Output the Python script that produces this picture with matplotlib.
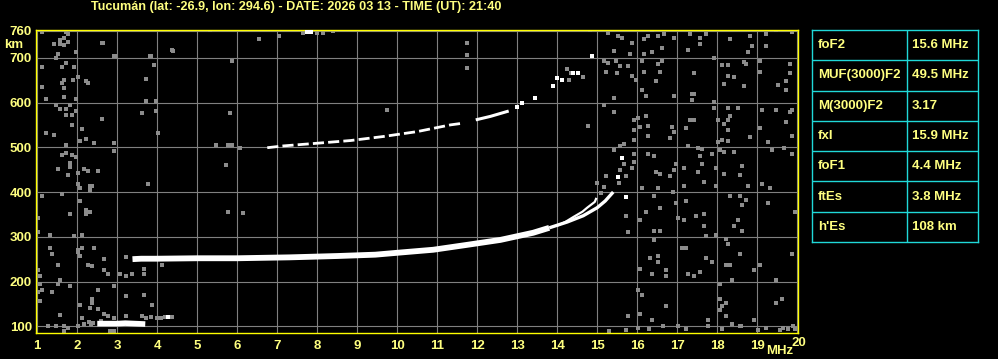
"""
Ionograma Tucumán — traza O/X de la capa F, segundo salto, Es y ruido.
"""

import matplotlib.pyplot as plt
import numpy as np

TITLE = "Tucumán (lat: -26.9, lon: 294.6) - DATE: 2026 03 13 - TIME (UT): 21:40"

# parametros escalados (tabla derecha)
param_names  = ["foF2", "MUF(3000)F2", "M(3000)F2", "fxI", "foF1", "ftEs", "h'Es"]
param_values = ["15.6 MHz", "49.5 MHz", "3.17", "15.9 MHz", "4.4 MHz", "3.8 MHz", "108 km"]

freq_ticks   = list(range(1, 21))
height_ticks = [100, 200, 300, 400, 500, 600, 700, 760]

# traza ordinaria F (banda principal)
o_freq   = [3.38, 3.6, 4.0, 5.0, 6.0, 7.3, 8.5, 9.45, 10.1, 10.9, 11.75, 12.58, 13.4, 13.8]
o_height = [250, 251, 251, 252, 252, 254, 257, 260, 265, 271, 282, 293, 309, 320]
o_end_freq   = [13.8, 14.25, 14.65, 15.0, 15.2, 15.4]
o_end_height = [320, 333, 347, 365, 380, 400]

# rama extraordinaria / cúspide
x_freq   = [14.0, 14.2, 14.4, 14.63, 14.75, 14.94, 14.98]
x_height = [325, 333, 344, 356, 365, 378, 387]

# segundo salto 2F
f2a_freq   = [6.75, 7.15, 8.0, 8.83, 9.65, 10.5, 11.33, 11.58]
f2a_height = [499, 503, 509, 515, 524, 535, 550, 553]
f2b_freq   = [12.0, 12.33, 12.75]
f2b_height = [562, 569, 580]
f2_pts_freq   = [13.0, 13.13, 13.45, 13.9, 14.13, 14.4, 14.53, 14.88, 14.0]
f2_pts_height = [591, 598, 611, 636, 651, 666, 667, 705, 654]

# capa Es
es_freq   = [2.5, 2.8, 3.0, 3.2, 3.45, 3.7]
es_height = [106, 106, 106, 107, 106, 105]
es_tail_freq   = [3.72, 3.85, 4.0, 4.1, 4.2, 4.38, 2.3, 2.4, 2.35, 2.6]
es_tail_height = [118, 120, 118, 119, 120, 120, 110, 108, 104, 112]

# puntos blancos sueltos
bright_freq   = [7.75, 7.85, 15.63, 15.53, 4.28, 15.73, 14.0, 14.4]
bright_height = [757, 757, 476, 434, 120, 388, 654, 666]

# ruido gris, zona baja frecuencia
noise_lo_freq = [1.13, 1.73, 1.78, 1.68, 1.58, 1.43, 1.58, 1.68, 1.78, 2.63, 1.53, 1.48,
                 1.98, 2.93, 3.83, 4.38, 5.33, 5.88, 1.13, 1.63, 1.73, 1.93, 3.93, 2.02,
                 1.9, 1.68, 1.63, 2.23, 2.28, 3.73, 1.13, 1.68, 1.68, 1.23, 1.98, 3.72,
                 3.98, 1.48, 1.83, 1.58, 1.73, 1.98, 1.73, 1.88, 3.63, 3.98, 5.83, 2.63,
                 1.88, 2.13, 1.23, 1.43, 2.23, 2.08, 2.43, 2.93, 4.03, 1.73, 5.48, 5.78,
                 5.88, 2.93, 1.63, 1.73, 1.88, 1.98, 1.83, 1.83, 1.53, 1.78, 2.18, 2.28,
                 2.53, 2.03, 5.73, 2.03, 2.08, 2.33, 2.38, 2.33, 1.13, 1.63, 3.78, 2.08,
                 1.83, 2.23, 2.33, 2.23, 1.03, 5.78, 1.03, 1.33, 2.13, 1.93, 1.33, 1.38,
                 2.03, 2.03, 2.13, 2.43, 2.08, 2.68, 3.23, 1.53, 2.28, 2.38, 2.68, 2.78,
                 3.08, 3.23, 3.38, 3.68, 3.68, 4.13, 1.03, 1.08, 1.08, 1.58, 1.08, 1.83,
                 1.53, 1.13, 1.38, 1.03, 1.08, 2.93, 2.53, 3.68, 3.23, 2.38, 2.08, 2.38,
                 2.33, 2.53, 3.88, 1.58, 2.13, 2.68, 2.78, 2.93, 3.23, 3.63, 1.28, 1.48,
                 1.68, 1.78, 2.03, 2.18, 2.83, 2.93, 1.68, 2.65, 4.4, 6.55, 7.05, 8.4,
                 3.85, 2.95, 11.75, 11.75, 11.75, 6.15, 6.08, 9.75, 7.65, 8.0, 8.15]
noise_lo_height = [757, 757, 753, 744, 740, 731, 731, 728, 735, 734, 708, 699,
                   713, 704, 704, 717, 762, 692, 679, 679, 688, 679, 684, 657,
                   650, 651, 643, 648, 643, 652, 634, 632, 612, 607, 607, 603,
                   603, 594, 594, 585, 585, 581, 571, 573, 576, 581, 576, 563,
                   549, 540, 531, 527, 518, 513, 509, 509, 531, 504, 504, 504,
                   504, 491, 482, 487, 482, 478, 464, 455, 451, 437, 451, 446,
                   446, 442, 460, 417, 408, 413, 413, 404, 390, 395, 417, 381,
                   350, 359, 355, 350, 341, 355, 310, 305, 305, 301, 274, 261,
                   270, 265, 274, 274, 256, 250, 255, 238, 238, 234, 225, 216,
                   216, 212, 216, 229, 216, 238, 225, 212, 194, 203, 194, 189,
                   194, 180, 176, 176, 156, 189, 180, 171, 167, 162, 148, 152,
                   140, 139, 147, 125, 118, 127, 123, 118, 123, 123, 100, 100,
                   100, 96, 100, 104, 90, 90, 90, 732, 716, 743, 748, 760,
                   703, 703, 734, 707, 677, 353, 499, 584, 755, 755, 755]

# ruido gris, zona alta frecuencia
noise_hi_freq = [14.83, 15.28, 15.53, 15.63, 15.88, 15.43, 15.83, 16.18, 16.28, 16.38,
                 16.53, 16.68, 16.63, 16.93, 16.18, 16.38, 17.33, 17.58, 17.73, 17.28,
                 17.58, 18.33, 18.83, 18.88, 18.78, 19.23, 19.23, 19.48, 19.88, 15.18,
                 15.28, 15.48, 15.58, 15.23, 15.78, 15.88, 15.98, 15.5, 14.25, 14.35,
                 14.3, 14.65, 15.43, 16.13, 16.53, 16.18, 16.58, 16.48, 16.63, 16.13,
                 16.23, 16.93, 17.43, 17.38, 17.43, 17.38, 17.93, 18.13, 18.28, 18.18,
                 18.28, 18.43, 18.68, 18.73, 18.68, 19.08, 19.08, 19.53, 19.73, 19.73,
                 19.83, 19.83, 15.18, 15.43, 14.78, 15.93, 16.03, 15.93, 16.08, 15.93,
                 16.23, 16.28, 16.28, 16.88, 16.93, 16.83, 17.23, 17.33, 17.43, 17.93,
                 17.93, 18.28, 18.53, 18.33, 18.28, 18.18, 18.28, 18.03, 18.28, 18.03,
                 18.13, 18.83, 19.13, 19.48, 19.83, 19.88, 19.73, 19.08, 19.28, 19.88,
                 15.43, 15.58, 15.68, 15.93, 15.68, 15.93, 15.88, 15.23, 15.58, 15.73,
                 16.28, 16.43, 16.48, 16.58, 16.83, 16.93, 16.98, 17.18, 17.28, 17.53,
                 17.63, 17.58, 17.63, 17.88, 17.98, 17.53, 18.08, 18.18, 18.43, 18.63,
                 18.58, 18.18, 19.38, 19.68, 19.88, 15.1, 15.18]
noise_hi_height = [762, 755, 749, 744, 732, 714, 708, 743, 749, 762,
                   749, 753, 722, 744, 708, 713, 753, 744, 753, 717,
                   731, 741, 749, 726, 713, 753, 726, 762, 758, 692,
                   689, 692, 681, 668, 681, 659, 651, 666, 674, 666,
                   650, 656, 611, 692, 687, 669, 668, 647, 692, 629,
                   615, 615, 665, 620, 620, 606, 699, 683, 683, 642,
                   660, 656, 690, 687, 636, 692, 668, 638, 647, 629,
                   686, 666, 594, 579, 548, 561, 566, 539, 546, 516,
                   570, 548, 525, 546, 534, 521, 542, 561, 561, 602,
                   587, 588, 588, 570, 561, 552, 539, 561, 515, 512,
                   516, 524, 584, 584, 579, 584, 557, 543, 512, 525,
                   494, 503, 508, 485, 463, 467, 454, 436, 449, 436,
                   485, 481, 445, 440, 436, 449, 463, 454, 503, 498,
                   497, 481, 463, 485, 454, 445, 494, 490, 490, 458,
                   439, 440, 494, 498, 485, 398, 412]

noise_bot_freq = [15.3, 15.72, 16.03, 16.3, 16.65, 17.03, 17.23, 17.78, 18.13, 18.6,
                  19.03, 19.23, 19.58, 19.9, 19.78, 16.13, 16.53, 16.43, 16.9, 17.23,
                  16.98, 17.18, 17.68, 17.98, 18.78, 19.13, 19.33, 18.33, 18.58, 18.73,
                  18.63, 19.28, 19.95, 16.08, 16.23, 16.58, 15.73, 15.78, 16.43, 16.58,
                  17.03, 17.18, 17.48, 17.68, 17.68, 17.73, 17.98, 18.53, 18.43, 18.63,
                  16.43, 17.13, 17.23, 16.53, 16.33, 16.53, 16.08, 16.73, 16.38, 16.73,
                  17.28, 17.43, 17.58, 17.73, 17.88, 18.23, 18.28, 18.58, 18.23, 18.33,
                  18.93, 19.08, 19.88, 18.38, 18.08, 19.48, 16.03, 16.13, 16.73, 16.08,
                  15.78, 16.38, 18.08, 18.13, 18.23, 18.08, 18.23, 18.38, 18.58, 18.93,
                  19.48, 19.63, 17.78, 19.65, 19.95, 15.0, 15.55]
noise_bot_height = [89, 92, 96, 94, 100, 100, 94, 100, 94, 100,
                    92, 96, 92, 100, 94, 408, 408, 390, 399, 380,
                    375, 413, 422, 413, 413, 417, 408, 390, 390, 383,
                    372, 375, 355, 337, 355, 364, 346, 310, 314, 314,
                    341, 337, 346, 350, 323, 301, 305, 337, 323, 314,
                    292, 274, 274, 256, 252, 243, 229, 225, 216, 212,
                    216, 212, 221, 252, 243, 294, 283, 261, 238, 238,
                    225, 238, 261, 203, 194, 203, 180, 171, 146, 128,
                    124, 115, 162, 146, 151, 136, 124, 106, 101, 115,
                    151, 160, 115, 96, 94, 420, 420]

BG = "black"
TXT = "#ffff80"
GRID = "#808080"
CYAN = "#20d8d8"
FONT = ["Liberation Sans", "DejaVu Sans"]

plt.rcParams["font.family"] = FONT
plt.rcParams["font.weight"] = "bold"

fig = plt.figure(figsize=(9.98, 3.59), dpi=100, facecolor=BG)
ax = fig.add_axes([36 / 998, 26 / 359, 762 / 998, 303 / 359], facecolor=BG)

ax.set_xlim(0.968, 20.02)
ax.set_ylim(85, 762)
ax.set_xticks(freq_ticks)
ax.set_yticks(height_ticks)
ax.set_xticklabels([str(f) if f != 20 else "" for f in freq_ticks])
ax.set_yticklabels([str(h) for h in height_ticks])
ax.tick_params(length=0, labelsize=9.5, labelcolor=TXT, pad=5)
ax.tick_params(axis="y", pad=3)
ax.grid(True, color=GRID, lw=0.8)
ax.set_axisbelow(True)
for sp in ax.spines.values():
    sp.set_color("#ffff00")
    sp.set_linewidth(1.0)

# ruido
pk = dict(s=5.5, marker="s", c="#8c8c8c", lw=0, zorder=2)
ax.scatter(noise_lo_freq, noise_lo_height, **pk)
ax.scatter(noise_hi_freq, noise_hi_height, **pk)
ax.scatter(noise_bot_freq, noise_bot_height, **pk)
ax.scatter(es_tail_freq, es_tail_height, **pk)

# trazas
ax.plot(o_freq, o_height, color="white", lw=4.2, solid_capstyle="butt", zorder=3)
ax.plot(o_end_freq, o_end_height, color="white", lw=2.4, solid_capstyle="butt", zorder=3)
ax.plot(x_freq, x_height, color="white", lw=1.6, solid_capstyle="butt", zorder=3)
ax.plot(f2a_freq, f2a_height, color="white", lw=2.0, ls=(0, (4, 1.5)), zorder=3)
ax.plot(f2b_freq, f2b_height, color="white", lw=2.2, zorder=3)
ax.scatter(f2_pts_freq, f2_pts_height, s=5, marker="s", c="white", lw=0, zorder=3)
ax.plot(es_freq, es_height, color="white", lw=4.0, solid_capstyle="butt", zorder=3)
ax.scatter(bright_freq, bright_height, s=5, marker="s", c="white", lw=0,
           zorder=3, clip_on=True)

# textos de ejes
fig.text(13.5 / 998, 1 - 45 / 359, "km", color=TXT, fontsize=9.5,
         ha="center", va="center")
fig.text(780 / 998, 1 - 351.5 / 359, "MHz", color=TXT, fontsize=9.5,
         ha="center", va="center")
fig.text(799 / 998, 1 - 343 / 359, "20", color=TXT, fontsize=9.5,
         ha="center", va="center")
fig.text(91 / 998, 1 - 7 / 359, TITLE, color=TXT, fontsize=9.1,
         ha="left", va="center")

# tabla de parametros
tab = fig.add_axes([812 / 998, 1 - 242 / 359, 166 / 998, 212 / 359], facecolor=BG)
tab.set_xlim(0, 166)
tab.set_ylim(len(param_names), 0)
tab.set_xticks([])
tab.set_yticks([])
for sp in tab.spines.values():
    sp.set_color(CYAN)
    sp.set_linewidth(1.0)
tab.axvline(95, color=CYAN, lw=1.0)
for i in range(1, len(param_names)):
    tab.axhline(i, color=CYAN, lw=1.0)
for i, (name, val) in enumerate(zip(param_names, param_values)):
    tab.text(6, i + 0.5, name, color=TXT, fontsize=9.5, ha="left", va="center")
    tab.text(100, i + 0.5, val, color=TXT, fontsize=9.5, ha="left", va="center")

fig.savefig("out.png", dpi=100, facecolor=BG)
